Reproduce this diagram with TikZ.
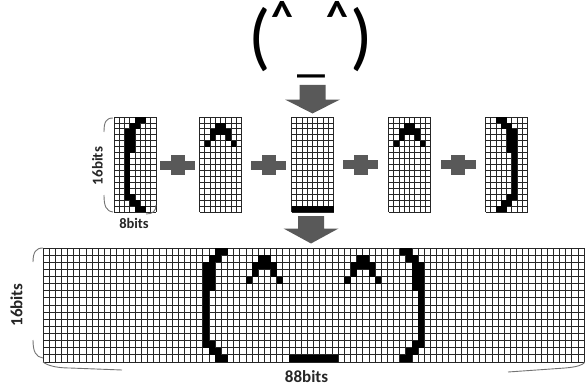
\documentclass[tikz,border=0pt]{standalone}
\usepackage{fontspec}
\setmainfont{Carlito}

% grid of 16 rows: x0, y0, cell width, cell height, number of columns
\newcommand\bitgrid[5]{%
  \foreach \c in {0,...,#5} \draw[gridline] ({#1+\c*#3},#2) -- ++(0,{16*#4});
  \foreach \r in {0,...,16} \draw[gridline] (#1,{#2+\r*#4}) -- ++({#5*#3},0);
}
% black cells: x0, y0, cell width, cell height, column offset, list col/row
\newcommand\bitglyph[6]{%
  \foreach \c/\r in #6 \fill[bitcell] ({#1+(#5+\c)*#3},{#2+\r*#4}) rectangle ++(#3,#4);
}
% downward block arrow: centre x, top, start of head, tip
\newcommand\blockarrow[4]{%
  \fill[fatarrow] ({#1-13},#2) -- ({#1+13},#2) -- ({#1+13},#3) -- ({#1+27.5},#3)
    -- (#1,#4) -- ({#1-27.5},#3) -- ({#1-13},#3) -- cycle;
}
% plus sign centred at (#1,#2)
\newcommand\plusmark[2]{%
  \fill[plusfill] ({#1-17.5},{#2-4.5}) rectangle ({#1+17.5},{#2+4.5});
  \fill[plusfill] ({#1-7},{#2-10}) rectangle ({#1+7},{#2+10});
}

% 8x16 bitmaps
\def\glyphLP{4/0,5/0,3/1,4/1,2/2,3/2,2/3,3/3,2/4,3/4,2/5,3/5,2/6,2/7,2/8,2/9,2/10,2/11,2/12,2/13,3/13,3/14,4/14,4/15,5/15}
\def\glyphRP{3/0,2/0,4/1,3/1,5/2,4/2,5/3,4/3,5/4,4/4,5/5,4/5,5/6,5/7,5/8,5/9,5/10,5/11,5/12,5/13,4/13,4/14,3/14,3/15,2/15}
\def\glyphCaret{3/1,4/1,2/2,3/2,4/2,5/2,2/3,5/3,1/4,6/4}
\def\glyphUnder{0/15,1/15,2/15,3/15,4/15,5/15,6/15,7/15}

\begin{document}
\begin{tikzpicture}[x=1pt,y=-1pt,
  gridline/.style={line width=0.85pt, draw=black!85},
  bitcell/.style={fill=black},
  bracket/.style={draw=black!55, line width=0.9pt},
  sizelabel/.style={font=\bfseries, text=black!85, inner sep=0pt},
  fatarrow/.style={fill=black!65},
  plusfill/.style={fill=black!65},
  facechar/.style={inner sep=0pt, text=black},
]
\useasboundingbox (0,0) rectangle (585,385);

% emoticon on top
\node[facechar, font=\fontsize{74}{74}\selectfont] (lp) at (260,40) {(};
\node[facechar, font=\fontsize{74}{74}\selectfont] (rp) at (361.5,40) {)};
\node[facechar, font=\fontsize{44}{44}\selectfont\bfseries] (le) at (282.5,16) {\char`\^};
\node[facechar, font=\fontsize{44}{44}\selectfont\bfseries] (re) at (337.5,16) {\char`\^};
\node[facechar, font=\fontsize{56}{56}\selectfont] (mo) at (311,74) {\_};

\blockarrow{312.5}{85}{99.5}{113.5}

% five 8x16 character cells
\def\cw{5.25}\def\ch{5.9375}
\bitgrid{114}{117}{\cw}{\ch}{8}
\bitglyph{114}{117}{\cw}{\ch}{0}{\glyphLP}
\bitgrid{199.5}{117}{\cw}{\ch}{8}
\bitglyph{199.5}{117}{\cw}{\ch}{0}{\glyphCaret}
\bitgrid{291.5}{117}{\cw}{\ch}{8}
\bitglyph{291.5}{117}{\cw}{\ch}{0}{\glyphUnder}
\bitgrid{388.5}{117}{\cw}{\ch}{8}
\bitglyph{388.5}{117}{\cw}{\ch}{0}{\glyphCaret}
\bitgrid{485.5}{117}{\cw}{\ch}{8}
\bitglyph{485.5}{117}{\cw}{\ch}{0}{\glyphRP}

\plusmark{177.5}{165}
\plusmark{268.5}{165}
\plusmark{360.5}{164.5}
\plusmark{458}{164.5}

% size marks of one cell
\draw[bracket] (113,118) .. controls (106,118) and (104,122) .. (104,132);
\draw[bracket] (104,195) .. controls (104,206) and (106,211) .. (113,212);
\draw[bracket] (146,214) .. controls (153,214) and (156,211) .. (156,205);
\node[sizelabel, font=\fontsize{15}{15}\selectfont\bfseries, rotate=90] (h16a) at (97.5,166) {16bits};
\node[sizelabel, font=\fontsize{14.5}{14.5}\selectfont\bfseries] (w8) at (134,223) {8bits};

\blockarrow{311}{216}{228.5}{243.5}

% 88x16 line buffer
\def\bw{6.15}\def\bh{7.125}
\bitgrid{43}{248}{\bw}{\bh}{88}
\bitglyph{43}{248}{\bw}{\bh}{24}{\glyphLP}
\bitglyph{43}{248}{\bw}{\bh}{32}{\glyphCaret}
\bitglyph{43}{248}{\bw}{\bh}{40}{\glyphUnder}
\bitglyph{43}{248}{\bw}{\bh}{48}{\glyphCaret}
\bitglyph{43}{248}{\bw}{\bh}{56}{\glyphRP}

% size marks of the buffer
\draw[bracket] (43,248) .. controls (36,248) and (33,252) .. (33,262);
\draw[bracket] (33,340) .. controls (33,352) and (36,357) .. (43,358);
\draw[bracket] (43,362) .. controls (48,366) and (58,368) .. (70,368) -- (122,370);
\draw[bracket] (508,372) -- (565,368) .. controls (577,367) and (583,365) .. (585,362);
\node[sizelabel, font=\fontsize{17}{17}\selectfont\bfseries, rotate=90] (h16b) at (16.5,305) {16bits};
\node[sizelabel, font=\fontsize{17}{17}\selectfont\bfseries] (w88) at (306.5,377) {88bits};
\end{tikzpicture}
\end{document}
